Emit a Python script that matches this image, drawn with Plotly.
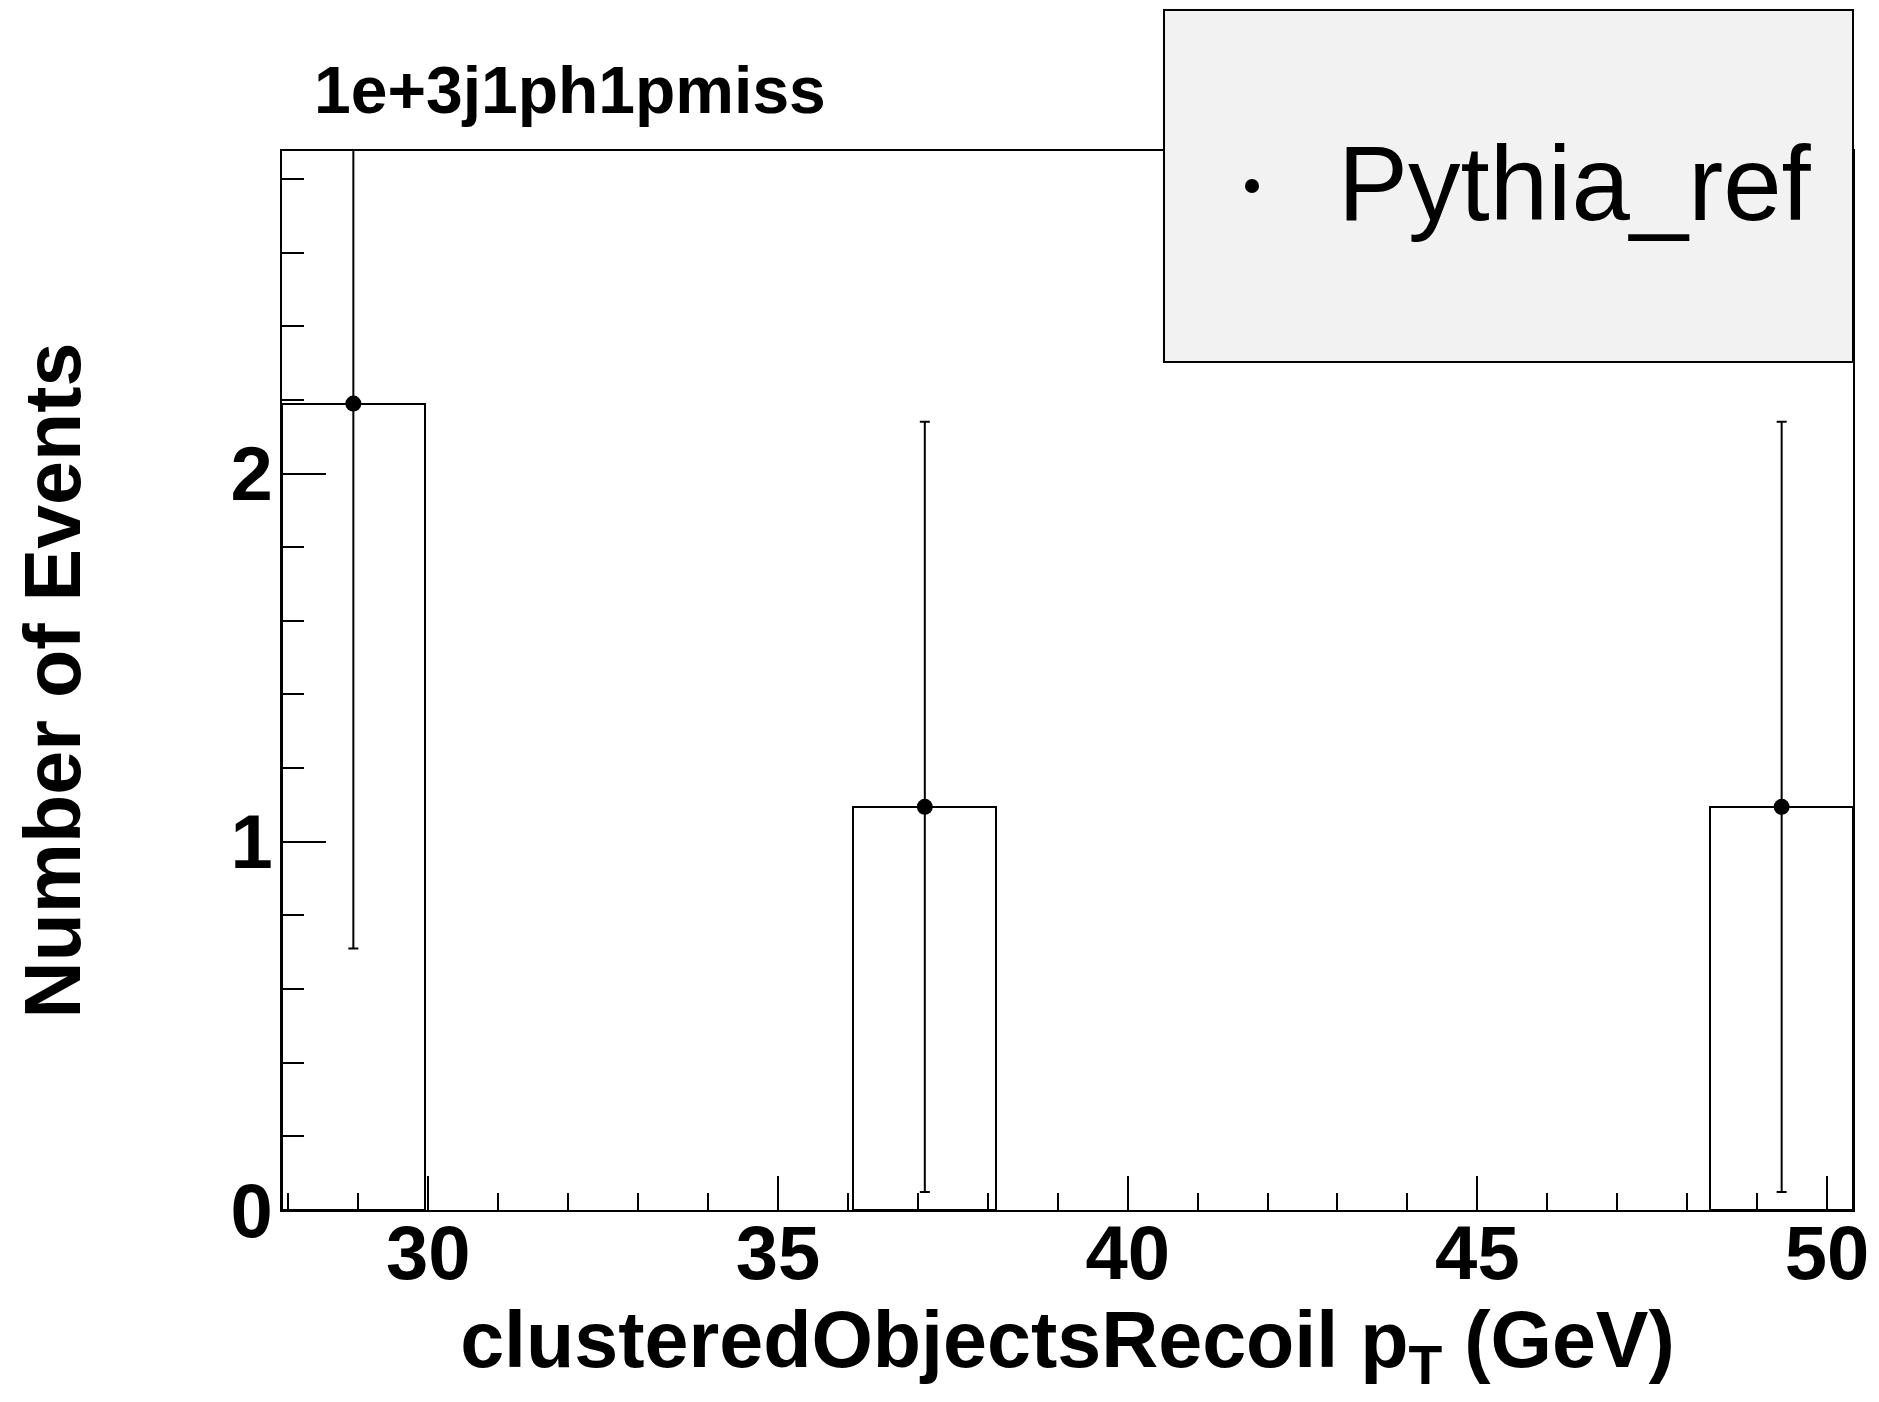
import plotly.graph_objects as go

# ---- data ----
bin_low = [27.91, 29.95, 31.99, 34.04, 36.08, 38.12, 40.16, 42.21, 44.25, 46.29, 48.33]
bin_center = [28.93, 30.97, 33.01, 35.06, 37.10, 39.14, 41.18, 43.23, 45.27, 47.31, 49.35]
bin_width = 2.042
counts = [2.19, 0, 0, 0, 1.095, 0, 0, 0, 0, 0, 1.095]
errors = [1.48, 0, 0, 0, 1.046, 0, 0, 0, 0, 0, 1.046]
x_range = [27.91, 50.37]
y_range = [0, 2.876]
x_ticks = [30, 35, 40, 45, 50]
y_ticks = [0, 1, 2]
title_text = "1e+3j1ph1pmiss"
legend_name = "Pythia_ref"
x_title = "clusteredObjectsRecoil p<sub>T</sub> (GeV)"
y_title = "Number of Events"

FONT = "Liberation Sans, Arial, Helvetica, sans-serif"

nz = [i for i, c in enumerate(counts) if c > 0]
hx = [bin_center[i] for i in nz]
hy = [counts[i] for i in nz]
he = [errors[i] for i in nz]

fig = go.Figure()
fig.add_trace(go.Bar(
    x=hx, y=hy, width=bin_width,
    marker=dict(color="rgba(255,255,255,0)", line=dict(color="black", width=2)),
    showlegend=False, hoverinfo="skip",
))
fig.add_trace(go.Scatter(
    x=hx, y=hy, mode="markers", name=legend_name,
    marker=dict(color="black", size=16),
    error_y=dict(type="data", array=he, visible=True, color="black", thickness=2, width=5),
    showlegend=False, cliponaxis=True,
))

# page body has an 8px margin: work in figure coordinates shifted by 8
OFF = 8
W, H = 1879 - OFF, 1402 - OFF
L, R, T, B = 282 - OFF, 1853 - OFF, 151 - OFF, 1210 - OFF
fig.update_layout(
    width=W, height=H,
    margin=dict(l=L, r=W - R, t=T, b=H - B, autoexpand=False),
    paper_bgcolor="white", plot_bgcolor="white",
    bargap=0,
    font=dict(family=FONT, color="black"),
    title=dict(text=title_text, x=(314 - OFF - L) / (R - L), xref="paper", xanchor="left",
               y=1 - (90 - OFF) / H, yref="container", yanchor="middle",
               font=dict(family=FONT, size=66, weight="bold", color="black")),
)
fig.update_xaxes(
    range=x_range, tickvals=x_ticks, ticks="inside", ticklen=34, tickwidth=2, tickcolor="black",
    minor=dict(dtick=1, tick0=30, ticks="inside", ticklen=17, tickwidth=2, tickcolor="black"),
    showline=True, linecolor="black", linewidth=2, mirror=True, showgrid=False, zeroline=False,
    tickfont=dict(family=FONT, size=76, weight="bold", color="black"),
    ticklabelstandoff=-24,
    title=dict(text=x_title, standoff=13, font=dict(family=FONT, size=79, weight="bold", color="black")),
)
fig.update_yaxes(
    range=y_range, tickvals=y_ticks, ticks="inside", ticklen=44, tickwidth=2, tickcolor="black",
    minor=dict(dtick=0.2, tick0=0, ticks="inside", ticklen=22, tickwidth=2, tickcolor="black"),
    showline=True, linecolor="black", linewidth=2, mirror=True, showgrid=False, zeroline=False,
    tickfont=dict(family=FONT, size=76, weight="bold", color="black"),
    ticklabelstandoff=-8,
    title=dict(text=y_title, standoff=142, font=dict(family=FONT, size=79, weight="bold", color="black")),
)

# legend box (drawn as decoration)
def px_x(p):
    return (p - OFF - L) / (R - L)

def px_y(p):
    return (B - (p - OFF)) / (B - T)

fig.add_shape(type="rect", xref="paper", yref="paper",
              x0=px_x(1164), x1=px_x(1853), y0=px_y(362), y1=px_y(10),
              fillcolor="#f2f2f2", line=dict(color="black", width=2), layer="above")
fig.add_shape(type="circle", xref="paper", yref="paper",
              xsizemode="pixel", ysizemode="pixel",
              xanchor=px_x(1252), yanchor=px_y(186), x0=-7, x1=7, y0=-7, y1=7,
              fillcolor="black", line=dict(color="black", width=0), layer="above")
fig.add_annotation(text=legend_name, xref="paper", yref="paper",
                   x=px_x(1336), y=px_y(183), xanchor="left", yanchor="middle",
                   showarrow=False, font=dict(family=FONT, size=105, color="black"))

fig.write_html("out.html")
